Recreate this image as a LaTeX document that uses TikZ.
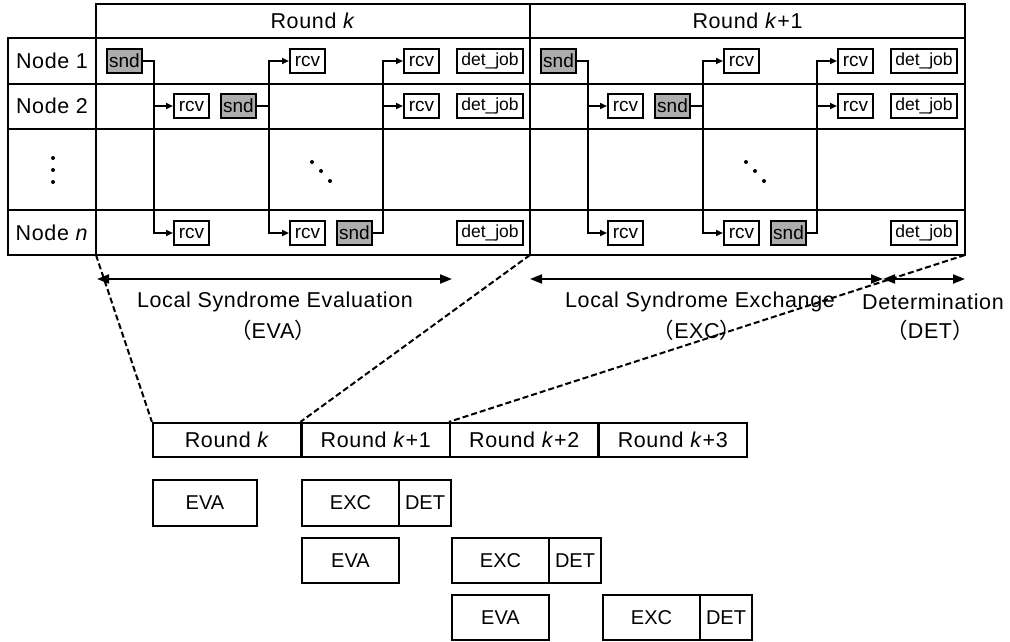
\documentclass[tikz,border=0pt]{standalone}
\usepackage{fontspec}
\setmainfont{Liberation Sans}[LetterSpace=3]
\newfontfamily\boxfont{Liberation Sans}
\newfontfamily\cjk{Noto Sans CJK JP}
\usetikzlibrary{arrows.meta}
\begin{document}
\begin{tikzpicture}[x=1pt,y=-1pt,
  tbl/.style={line width=2.2pt},
  lbl/.style={inner sep=0pt,font=\fontsize{21.5}{24}\selectfont},
  job/.style={draw,line width=2pt,minimum width=35pt,minimum height=24pt,inner sep=0pt,
    font=\boxfont\fontsize{19}{20}\selectfont},
  sndbox/.style={job,fill=black!32},
  detbox/.style={job,minimum width=66pt,font=\boxfont\fontsize{17.5}{20}\selectfont},
  conn/.style={line width=1.9pt,-{Triangle[length=7pt,width=6pt]}},
  span/.style={line width=2pt,{Triangle[length=12pt,width=9pt]}-{Triangle[length=12pt,width=9pt]}},
  zoomline/.style={line width=2pt,dash pattern=on 6pt off 3pt},
  rbox/.style={draw,line width=2.2pt,minimum width=148.5pt,minimum height=34pt,inner sep=0pt,
    font=\fontsize{21.5}{24}\selectfont},
  phase/.style={draw,line width=2.2pt,minimum height=45.5pt,inner sep=0pt,
    font=\boxfont\fontsize{20}{22}\selectfont},
  dot/.style={fill=black}
]
\useasboundingbox (0,0) rectangle (1010,642);

% ---- schedule table ----
\draw[tbl] (96,4) rectangle (965,255);
\draw[tbl] (8,38) rectangle (96,255);
\draw[tbl] (96,38) -- (965,38);
\foreach \yy in {84,129,210} \draw[tbl] (8,\yy) -- (965,\yy);
\draw[tbl] (530,4) -- (530,255);

\node[lbl] (hdrk) at (313,21) {Round \textit{k}};
\node[lbl] (hdrk1) at (747.5,21) {Round \textit{k}+1};

\node[lbl] (node1) at (52,61) {Node 1};
\node[lbl] (node2) at (52,106) {Node 2};
\node[lbl] (noden) at (52,233) {Node \textit{n}};
\foreach \yy in {158,170,182} \fill[dot] (53,\yy) circle (2);

% one round of send/receive jobs, repeated for round k and round k+1
\foreach \p/\dx in {a/0,b/434}{
  \begin{scope}[xshift=\dx pt]
    \node[sndbox] (snd1\p) at (124.5,61) {snd};
    \node[job]    (rcvB1\p) at (307.5,61) {rcv};
    \node[job]    (rcvC1\p) at (421.5,61) {rcv};
    \node[detbox] (det1\p) at (490,61) {det\_job};

    \node[job]    (rcvA2\p) at (191.5,106) {rcv};
    \node[sndbox] (snd2\p) at (238.5,106) {snd};
    \node[job]    (rcvC2\p) at (421.5,106) {rcv};
    \node[detbox] (det2\p) at (490,106) {det\_job};

    \node[job]    (rcvAn\p) at (191.5,233) {rcv};
    \node[job]    (rcvBn\p) at (307.5,233) {rcv};
    \node[sndbox] (sndn\p) at (354.5,233) {snd};
    \node[detbox] (detn\p) at (490,233) {det\_job};

    \draw[conn] (snd1\p.east) -- +(11,0) |- (rcvA2\p.west);
    \draw[conn] (snd1\p.east) -- +(11,0) |- (rcvAn\p.west);
    \draw[conn] (snd2\p.east) -- +(12,0) |- (rcvB1\p.west);
    \draw[conn] (snd2\p.east) -- +(12,0) |- (rcvBn\p.west);
    \draw[conn] (sndn\p.east) -- +(10,0) |- (rcvC1\p.west);
    \draw[conn] (sndn\p.east) -- +(10,0) |- (rcvC2\p.west);

    \fill[dot] (312,162) circle (2);
    \fill[dot] (321,171) circle (2);
    \fill[dot] (330,181) circle (2);
  \end{scope}
}

% ---- phase spans ----
\coordinate (evaL) at (97,279);
\coordinate (evaR) at (452,279);
\coordinate (excL) at (530,279);
\coordinate (excR) at (883,279);
\coordinate (detR) at (965,279);
\draw[span] (evaL) -- (evaR);
\draw[span] (excL) -- (excR);
\draw[span] (excR) -- (detR);

\node[lbl] (evaT) at (275,302) {Local Syndrome Evaluation};
\node[lbl] (evaP) at (273,330) {{\cjk （}EVA{\cjk ）}};
\node[lbl] (excT) at (700,302) {Local Syndrome Exchange};
\node[lbl] (excP) at (697,330) {{\cjk （}EXC{\cjk ）}};
\node[lbl] (detT) at (933,302) {Determination};
\node[lbl] (detP) at (930,330) {{\cjk （}DET{\cjk ）}};

% ---- pipelined rounds ----
\node[rbox] (rk0) at (227.25,440) {Round \textit{k}};
\node[rbox] (rk1) at (375.75,440) {Round \textit{k}+1};
\node[rbox] (rk2) at (524.25,440) {Round \textit{k}+2};
\node[rbox] (rk3) at (672.75,440) {Round \textit{k}+3};

\node[phase,minimum width=104pt] (eva1) at (205,503) {EVA};
\node[phase,minimum width=97pt]  (exc1) at (350.5,503) {EXC};
\node[phase,minimum width=52pt]  (det1) at (425,503) {DET};

\node[phase,minimum width=97pt]  (eva2) at (350.5,560.5) {EVA};
\node[phase,minimum width=97pt]  (exc2) at (500.5,560.5) {EXC};
\node[phase,minimum width=52pt]  (det2) at (575,560.5) {DET};

\node[phase,minimum width=97pt]  (eva3) at (500.5,617.5) {EVA};
\node[phase,minimum width=97pt]  (exc3) at (651.5,617.5) {EXC};
\node[phase,minimum width=52pt]  (det3) at (726,617.5) {DET};

% ---- zoom lines from the table to the round bar ----
\coordinate (tblL) at (96,255);
\coordinate (tblM) at (530,255);
\coordinate (tblR) at (965,255);
\draw[zoomline] (tblL) -- (rk0.north west);
\draw[zoomline] (tblM) -- (rk1.north west);
\draw[zoomline] (tblR) -- (rk2.north west);
\end{tikzpicture}
\end{document}
